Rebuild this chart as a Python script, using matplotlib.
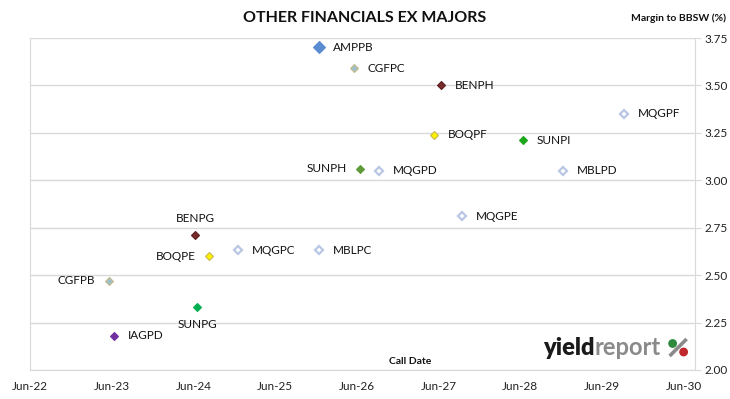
import numpy as np
import pandas as pd
import matplotlib.pyplot as plt
from matplotlib.patches import Circle
from matplotlib.lines import Line2D

plt.rcParams['font.family'] = ['Lato', 'DejaVu Sans']

# call dates (decimal years) and margins to BBSW (%)
names = ['AMPPB', 'CGFPC', 'BENPH', 'MQGPF', 'BOQPF', 'SUNPI', 'SUNPH', 'MQGPD',
         'MBLPD', 'MQGPE', 'BENPG', 'MQGPC', 'MBLPC', 'BOQPE', 'CGFPB', 'SUNPG', 'IAGPD']
call_year = [2025.95, 2026.38, 2027.45, 2029.69, 2027.36, 2028.45, 2026.46, 2026.69,
             2028.94, 2027.70, 2024.44, 2024.96, 2025.96, 2024.61, 2023.38, 2024.46, 2023.44]
margin = [3.70, 3.59, 3.50, 3.35, 3.24, 3.21, 3.06, 3.05,
          3.05, 2.81, 2.71, 2.63, 2.63, 2.60, 2.47, 2.33, 2.18]

fills = ['#5B8BD0', '#9DC0C8', '#7B2A2A', 'white', '#FFF200', '#1CA81C', '#5E9A3A', 'white',
         'white', 'white', '#7B2A2A', 'white', 'white', '#FFF200', '#9DC0C8', '#00B050', '#7030A0']
edges = ['#5B8BD0', '#C8BC8C', '#5A1E1E', '#B8C8E4', '#C8B850', '#1CA81C', '#5E9A3A', '#B8C8E4',
         '#B8C8E4', '#B8C8E4', '#5A1E1E', '#B8C8E4', '#B8C8E4', '#C8B850', '#C8BC8C', '#00B050', '#7030A0']
# label placement: r = right, l = left, t = above, b = below
place = ['r', 'r', 'r', 'r', 'r', 'r', 'l', 'r',
         'r', 'r', 't', 'r', 'r', 'l', 'l', 'b', 'r']

years = list(range(2022, 2031))
tick_labels = ['Jun-%02d' % (y - 2000) for y in years]

fig = plt.figure(figsize=(7.3, 3.99), dpi=100)
ax = fig.add_axes([30 / 730, 29 / 399, 665 / 730, 332 / 399])

for x, y, n, fc, ec, p in zip(call_year, margin, names, fills, edges, place):
    big = n == 'AMPPB'
    hollow = fc == 'white'
    ax.plot(x, y, marker='D', ms=6.5 if big else 4.5, mfc=fc, mec=ec,
            mew=1.6 if hollow else 0.8, ls='none', zorder=3)
    if p == 'r':
        ax.annotate(n, (x, y), xytext=(10, 0), textcoords='offset points',
                    ha='left', va='center', fontsize=8.5, color='#111111')
    elif p == 'l':
        ax.annotate(n, (x, y), xytext=(-10, 0), textcoords='offset points',
                    ha='right', va='center', fontsize=8.5, color='#111111')
    elif p == 't':
        ax.annotate(n, (x, y), xytext=(0, 8), textcoords='offset points',
                    ha='center', va='bottom', fontsize=8.5, color='#111111')
    else:
        ax.annotate(n, (x, y), xytext=(0, -8), textcoords='offset points',
                    ha='center', va='top', fontsize=8.5, color='#111111')

jun = [y + 5 / 12 for y in years]
ax.set_xlim(jun[0] + 0.02, jun[0] + 8.14)
ax.set_xticks(jun)
ax.set_xticklabels(tick_labels, fontsize=8.5, color='#222222')
ax.tick_params(axis='x', length=0, pad=8)

ax.set_ylim(2.0, 3.75)
ax.set_yticks(np.arange(2.0, 3.76, 0.25))
ax.set_yticklabels(['%.2f' % v for v in np.arange(2.0, 3.76, 0.25)], fontsize=8.5, color='#222222')
ax.yaxis.tick_right()
ax.tick_params(axis='y', length=4, color='#D9D9D9', pad=3)
ax.grid(axis='y', color='#D9D9D9', lw=1)
ax.set_axisbelow(True)
for s in ['left', 'right', 'bottom']:
    ax.spines[s].set_color('#D9D9D9')
ax.spines['top'].set_visible(False)

fig.text(0.5, 0.955, 'OTHER FINANCIALS EX MAJORS', ha='center', va='center',
         fontsize=11.5, fontweight='bold', color='#111111')
fig.text(0.995, 0.955, 'Margin to BBSW (%)', ha='right', va='center',
         fontsize=7.5, fontweight='bold', color='#111111')
fig.text(0.562, 0.093, 'Call Date', ha='center', va='center',
         fontsize=7.5, fontweight='bold', color='#111111')

# logo (pixel positions -> inches, 100 px per inch)
H = 399
base = (H - 355) / 100
px = fig.dpi_scale_trans
t1 = fig.text(5.43, base, 'yield', ha='left', va='baseline', transform=px,
              fontsize=17, fontweight='heavy', color='#1A1A1A')
t2 = fig.text(0, 0, 'report', ha='left', va='baseline', fontsize=17, fontweight='bold', color='#8A8A8A')
fig.canvas.draw()
r = fig.canvas.get_renderer()
b1 = t1.get_window_extent(r)
t2.set_transform(px)
t2.set_position((b1.x1 / 100, base))
fig.canvas.draw()
b2 = t2.get_window_extent(r)
p0 = b2.x1 + 8  # left edge of the % sign, px
fig.lines.append(Line2D([(p0 + 1) / 100, (p0 + 18) / 100], [(H - 356) / 100, (H - 339) / 100],
                        transform=px, color='#8A8A8A', lw=2.6, solid_capstyle='butt'))
fig.patches.append(Circle(((p0 + 4) / 100, (H - 343.5) / 100), 0.037, transform=px, color='#2E8B3E', zorder=5))
fig.patches.append(Circle(((p0 + 15) / 100, (H - 352) / 100), 0.037, transform=px, color='#C0282D', zorder=5))

fig.savefig('out.png', dpi=100)
